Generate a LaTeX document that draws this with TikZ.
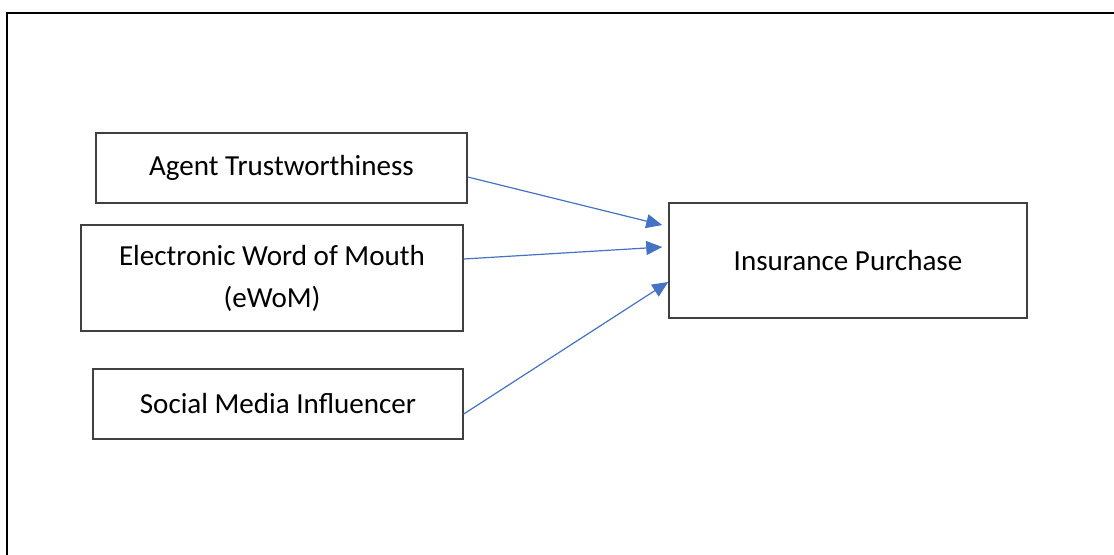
\documentclass[tikz,border=0pt]{standalone}
\usepackage{fontspec}
\setmainfont{Carlito}
\usepackage{tikz}
\usetikzlibrary{arrows.meta}
\definecolor{linkblue}{HTML}{4472C4}
\tikzset{box/.style={draw=black!75,line width=1.1pt,inner sep=0pt,align=center,font=\fontsize{21.8pt}{31.5pt}\selectfont},
link/.style={draw=linkblue,line width=0.9pt,-{Triangle[length=12pt,width=10.5pt]},linkblue}}

\begin{document}
\begin{tikzpicture}[x=0.75pt,y=-0.75pt]
\useasboundingbox (0,0) rectangle (1114,554);
\clip (0,0) rectangle (1114,554);
\draw[line width=1.6pt] (7,13) rectangle (1130,570);

\node[box,minimum width=278.25pt,minimum height=52.5pt] (agent) at (281.5,168) {Agent Trustworthiness};
\node[box,minimum width=286.5pt,minimum height=79.5pt] (ewom) at (272,278) {Electronic Word of Mouth\\(eWoM)};
\node[box,minimum width=277.5pt,minimum height=52.5pt] (smi) at (278,404) {Social Media Influencer};
\node[box,minimum width=268.5pt,minimum height=86.25pt] (purchase) at (848,260.5) {Insurance Purchase};

\draw[link] ([yshift=-6.75pt]agent.east) -- ([xshift=-4.5pt,yshift=26.6pt]purchase.west);
\draw[link] ([yshift=14.25pt]ewom.east) -- ([xshift=-4.5pt,yshift=10.1pt]purchase.west);
\draw[link] ([yshift=-7.5pt]smi.east) -- ([yshift=-16.1pt]purchase.west);
\end{tikzpicture}
\end{document}
